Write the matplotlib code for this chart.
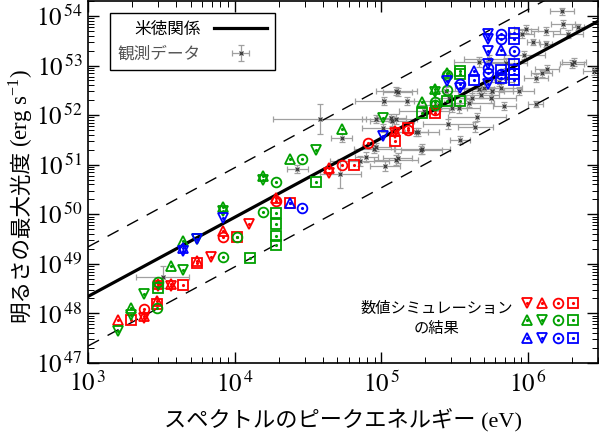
import numpy as np
import matplotlib
matplotlib.use("Agg")
import matplotlib.pyplot as plt
from matplotlib.lines import Line2D
from matplotlib.legend_handler import HandlerTuple
from matplotlib.ticker import LogLocator, FuncFormatter, NullFormatter

# ---------------- data ----------------
# Yonetoku relation line and its +/- 1 dex band
rel_E = [1e3, 3e6]
rel_L = [2.2e48, 7.8e53]
band_factor = 10.0

# Observed GRBs: peak energy (eV), peak luminosity (erg/s), errors in dex
obs_E = [3.79e4, 5.35e4, 5.26e4, 7.9e4, 8.96e4, 1.06e5, 1.26e5, 1.90e5, 1.29e5, 1.05e5,
         1.50e5, 1.26e5, 1.19e5, 9.25e4, 1.02e5, 1.73e5, 9.25e4, 2.86e5, 4.36e5, 3.44e5,
         5.0e5, 4.16e5, 4.64e5, 4.79e5, 5.6e5, 5.7e5, 6.35e5, 6.55e5, 8.7e5, 7.1e5,
         3.04e5, 3.4e5, 2.9e5, 2.77e5, 4.64e5, 7.1e5, 9.4e5, 1.13e6, 1.24e6, 1.35e6,
         1.99e6, 2.06e6, 2.8e6, 1.13e6, 9.1e5, 9.7e5, 1.08e6, 1.32e6, 1.32e6, 1.70e6,
         1.73e6, 2.19e6, 1.87e6, 3.24e3, 2.68e4, 1.29e5, 1.87e5, 1.26e5, 1.79e5, 1.17e5,
         5.4e5, 2.48e5, 3.97e5, 4.5e5, 6.9e5, 7.1e4, 1.96e5]
obs_L = [8.3e51, 3.5e51, 6.6e50, 1.45e51, 2.1e51, 9.5e50, 1.26e51, 2.1e51, 2.9e52, 1.9e52,
         1.9e52, 8.3e51, 7.6e51, 8.3e51, 5.5e51, 4.6e51, 2.3e51, 6.6e51, 5.8e51, 3.2e51,
         3.5e52, 2.2e52, 3.3e52, 2.6e52, 2.2e52, 3.0e52, 4.6e52, 3.5e52, 3.0e52, 5.5e52,
         1.38e52, 1.38e52, 2.2e52, 3.0e52, 1.2e53, 1.1e53, 1.66e53, 5.5e52, 6.9e52, 8.7e52,
         1.05e53, 1.2e53, 7.6e52, 1.66e52, 4.3e53, 5.4e53, 3.0e53, 4.9e53, 2.7e53, 1.23e54,
         6.8e53, 5.9e53, 4.3e53, 5.4e48, 8.3e50, 1.38e51, 2.0e51, 3.0e52, 4.6e51, 8.7e51,
         1.38e53, 1.58e52, 1.74e52, 9.1e51, 1.5e52, 1.2e51, 1.2e52]
obs_dE = [0.32, 0.07, 0.14, 0.08, 0.14, 0.10, 0.15, 0.19, 0.10, 0.20,
          0.17, 0.14, 0.15, 0.10, 0.14, 0.08, 0.10, 0.17, 0.12, 0.07,
          0.20, 0.14, 0.10, 0.12, 0.17, 0.14, 0.10, 0.14, 0.10, 0.08,
          0.10, 0.14, 0.10, 0.08, 0.17, 0.14, 0.14, 0.08, 0.07, 0.08,
          0.08, 0.08, 0.07, 0.05, 0.08, 0.08, 0.04, 0.10, 0.04, 0.08,
          0.08, 0.04, 0.10, 0.18, 0.07, 0.10, 0.14, 0.14, 0.14, 0.10,
          0.17, 0.14, 0.17, 0.20, 0.08, 0.20, 0.17]
obs_dL = [0.30, 0.08, 0.30, 0.10, 0.08, 0.10, 0.10, 0.10, 0.08, 0.08,
          0.08, 0.10, 0.10, 0.08, 0.08, 0.08, 0.08, 0.10, 0.10, 0.08,
          0.10, 0.10, 0.08, 0.08, 0.10, 0.08, 0.08, 0.08, 0.08, 0.08,
          0.08, 0.10, 0.08, 0.08, 0.10, 0.10, 0.08, 0.08, 0.08, 0.08,
          0.08, 0.08, 0.08, 0.06, 0.08, 0.08, 0.06, 0.08, 0.06, 0.08,
          0.08, 0.06, 0.08, 0.22, 0.08, 0.10, 0.08, 0.08, 0.08, 0.08,
          0.08, 0.08, 0.08, 0.08, 0.08, 0.10, 0.08]

# Simulation results (red / green / blue models)
red_E = [1.59e3, 1.96e3, 2.40e3, 2.40e3, 2.40e3, 2.95e3, 2.95e3, 2.99e3, 2.99e3, 3.67e3,
         3.67e3, 4.43e3, 5.51e3, 5.51e3, 6.87e3, 8.28e3, 8.28e3, 1.03e4, 1.26e4, 1.92e4,
         1.92e4, 2.37e4, 4.43e4, 4.43e4, 5.40e4, 6.50e4, 8.16e4, 1.24e5, 1.24e5, 1.24e5,
         1.51e5, 1.51e5, 2.33e5, 2.33e5]
red_L = [7.2e47, 7.2e47, 7.9e47, 8.9e47, 1.2e48, 1.58e48, 1.74e48, 3.9e48, 3.5e48, 4.0e48,
         3.5e48, 3.7e48, 1.02e49, 1.12e49, 1.35e49, 3.5e49, 4.7e49, 3.4e49, 6.5e49, 1.86e50,
         2.1e50, 1.7e50, 8.5e50, 6.8e50, 1.0e51, 1.0e51, 2.75e51, 3.0e51, 4.8e51, 4.4e51,
         5.0e51, 5.5e51, 1.1e52, 1.26e52]
red_m = ['^', 's', 'v', '^', 'o', 's', '^', '^', 'v', '^',
         'v', 's', 's', '^', 'v', 'o', '^', 's', 'v', 'o',
         '^', 's', '^', 'v', 'o', 's', 'o', 's', '^', 'v',
         'o', 's', 's', 'o']

green_E = [1.59e3, 1.96e3, 1.96e3, 2.95e3, 2.40e3, 2.99e3, 2.99e3, 3.67e3, 4.43e3, 8.28e3,
           4.43e3, 5.51e3, 1.03e4, 8.28e3, 8.28e3, 1.28e4, 1.55e4, 1.92e4, 1.92e4, 1.92e4,
           1.92e4, 1.55e4, 1.55e4, 1.92e4, 2.37e4, 2.90e4, 3.59e4, 3.59e4, 5.43e4, 1.02e5,
           1.89e5, 1.89e5, 2.33e5, 2.33e5, 2.33e5, 2.33e5, 2.81e5, 2.81e5, 2.81e5, 2.81e5,
           3.44e5, 3.44e5, 3.44e5]
green_L = [4.4e47, 1.26e48, 9.5e47, 1.26e48, 2.45e48, 4.3e48, 3.2e48, 8.9e48, 7.4e48, 1.35e49,
           2.95e49, 3.2e49, 3.4e49, 1.4e50, 1.17e50, 1.3e49, 1.12e50, 1.07e50, 6.5e49, 3.7e49,
           2.35e49, 5.9e50, 4.9e50, 4.5e50, 1.32e51, 1.32e51, 2.0e51, 4.5e50, 5.2e51, 8.7e51,
           1.8e52, 1.1e52, 1.8e52, 1.58e52, 3.4e52, 2.95e52, 3.2e52, 6.3e52, 7.2e52, 1.9e52,
           6.6e52, 1.9e52, 7.6e52]
green_m = ['v', '^', 'v', 'o', 'v', 'o', 's', '^', 'v', 'o',
           '^', 'v', 'o', '^', 'v', 's', 'o', 's', 's', 's',
           's', '^', 'v', 'o', '^', 'o', 'v', 's', '^', 'v',
           '^', 's', 'o', 'o', '^', 'v', 'o', 'o', '^', 's',
           's', 's', 's']

blue_E = [4.43e3, 4.43e3, 5.51e3, 8.28e3, 2.37e4, 2.90e4, 1.02e5, 2.81e5, 3.44e5, 3.44e5,
          4.30e5, 4.30e5, 5.35e5, 5.35e5, 6.55e5, 6.55e5, 8.04e5, 8.04e5, 5.35e5, 6.55e5,
          8.04e5, 5.35e5, 5.35e5, 5.35e5, 6.55e5, 6.55e5, 6.55e5, 8.04e5, 8.04e5, 8.04e5,
          8.04e5, 5.35e5]
blue_L = [2.1e49, 1.8e49, 3.2e49, 8.5e49, 1.7e50, 1.35e50, 3.8e51, 4.8e52, 4.2e52, 3.6e52,
          7.9e52, 5.0e52, 4.3e53, 3.4e53, 4.3e53, 3.5e53, 4.5e53, 3.5e53, 1.95e53, 2.1e53,
          2.0e53, 1.05e53, 7.2e52, 4.2e52, 8.3e52, 5.5e52, 6.6e52, 1.05e53, 8.3e52, 6.6e52,
          5.2e52, 8.9e52]
blue_m = ['^', 'v', 'v', 'v', '^', 'o', 'v', 'v', 'o', 'v',
          '^', 's', 'v', 'v', 'o', 'o', 's', 's', 'v', '^',
          'o', 'v', 'o', 'v', 's', 's', 'o', 's', 's', 's',
          's', 'o']

# legend key layout of the simulation markers (rows: red, green, blue)
key_markers = [['v', '^', 'o', 's'], ['^', 'v', 'o', 's'], ['^', 'v', 'o', 's']]

RED, GREEN, BLUE = '#ff0000', '#00a000', '#0000ff'

# ---------------- figure ----------------
plt.rcParams['mathtext.fontset'] = 'stix'
plt.rcParams['font.family'] = ['Liberation Serif', 'Noto Sans CJK JP']
JP = ['Noto Sans CJK JP', 'DejaVu Sans']

fig = plt.figure(figsize=(6.0, 4.33), dpi=100)
ax = fig.add_axes([88 / 600, 1 - 363 / 433, 510 / 600, 362 / 433])
ax.set_xscale('log')
ax.set_yscale('log')
ax.set_xlim(1e3, 3e6)
ax.set_ylim(1e47, 2e54)

# observed data
oE = np.array(obs_E); oL = np.array(obs_L)
odE = np.array(obs_dE); odL = np.array(obs_dL)
eb = ax.errorbar(oE, oL,
                 xerr=[oE - oE / 10 ** odE, oE * 10 ** odE - oE],
                 yerr=[oL - oL / 10 ** odL, oL * 10 ** odL - oL],
                 fmt='x', ms=3.5, mew=0.9, color='#3a3a3a', ecolor='#a0a0a0',
                 elinewidth=0.9, capsize=2, capthick=0.9, zorder=2)

# relation lines
rE = np.array(rel_E); rL = np.array(rel_L)
rel_line, = ax.plot(rE, rL, color='black', lw=2.3, zorder=3)
ax.plot(rE, rL * band_factor, color='black', lw=1.0, ls=(0, (9, 7)), zorder=3)
ax.plot(rE, rL / band_factor, color='black', lw=1.0, ls=(0, (9, 7)), zorder=3)

# simulations
def draw_sim(E, L, M, color):
    for mk in ['v', '^', 'o', 's']:
        idx = [i for i, m in enumerate(M) if m == mk]
        ax.plot([E[i] for i in idx], [L[i] for i in idx], ls='none', marker=mk,
                ms=7, mfc='none', mec=color, mew=1.3, zorder=4)
    ax.plot(E, L, ls='none', marker='.', ms=2.5, color=color, zorder=4)

draw_sim(red_E, red_L, red_m, RED)
draw_sim(green_E, green_L, green_m, GREEN)
draw_sim(blue_E, blue_L, blue_m, BLUE)

# ticks
for axis in (ax.xaxis, ax.yaxis):
    axis.set_major_locator(LogLocator(base=10, numticks=20))
    axis.set_minor_locator(LogLocator(base=10, subs=np.arange(2, 10), numticks=20))
    axis.set_minor_formatter(NullFormatter())
    axis.set_major_formatter(FuncFormatter(lambda v, p: r'$10^{\,%d}$' % round(np.log10(v))))
ax.tick_params(which='both', direction='in', top=True, right=True, labelsize=18)
ax.tick_params(which='major', length=8, width=1.0)
ax.tick_params(which='minor', length=4, width=0.7)
ax.tick_params(axis='y', which='major', pad=4)
ax.tick_params(axis='x', which='major', pad=6)
for s in ax.spines.values():
    s.set_linewidth(1.2)

ax.set_xlabel('スペクトルのピークエネルギー (eV)', fontsize=16, labelpad=9)
# y label: Japanese part + unit part (mathtext) stacked along the rotated axis
split_y = 1 - 150 / 433
fig.text(0.035, split_y, '明るさの最大光度', rotation=90, ha='center', va='top',
         fontsize=15.5, family=JP)
fig.text(0.035, split_y + 0.008, r'(erg s$^{\mathregular{-1}}$)', rotation=90,
         ha='center', va='bottom', fontsize=16.5, family='Liberation Serif')

# main legend
leg = ax.legend([rel_line, eb], ['米徳関係', '観測データ'], loc='upper left',
                bbox_to_anchor=(0.043, 0.967), borderaxespad=0, markerfirst=False,
                prop={'family': JP, 'size': 12}, handlelength=3.2, fancybox=False,
                framealpha=1, edgecolor='black', borderpad=0.45, labelspacing=0.5)
leg.get_frame().set_linewidth(1.0)
leg.get_texts()[1].set_color('#555555')
ax.add_artist(leg)

# simulation key
cols = [RED, GREEN, BLUE]
handles = []
for c in range(4):
    for r in range(3):
        h1 = Line2D([], [], ls='none', marker=key_markers[r][c], ms=7, mfc='none',
                    mec=cols[r], mew=1.3)
        h2 = Line2D([], [], ls='none', marker='.', ms=2.5, color=cols[r])
        handles.append((h1, h2))
leg2 = ax.legend(handles, [''] * 12, ncol=4, loc='center', bbox_to_anchor=(0.906, 0.114),
                 frameon=False, handlelength=0.7, handletextpad=0.0, columnspacing=0.3,
                 labelspacing=0.25, prop={'size': 11},
                 handler_map={tuple: HandlerTuple(ndivide=1, pad=0)})
ax.text(0.684, 0.123, '数値シミュレーション\nの結果', transform=ax.transAxes,
        ha='center', va='center', fontsize=11, family=JP, linespacing=1.3)

fig.savefig('out.png', dpi=100)
